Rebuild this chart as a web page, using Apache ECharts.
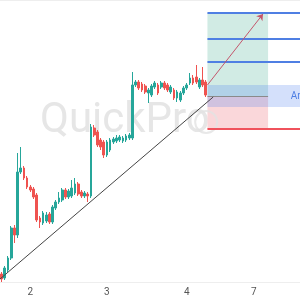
<!DOCTYPE html>
<html>
<head>
<meta charset="utf-8">
<script src="https://cdn.jsdelivr.net/npm/echarts@6/dist/echarts.min.js"></script>
<style>
  html, body { margin: 0; padding: 0; background: #fff; }
  #chart { width: 300px; height: 300px; }
</style>
</head>
<body>
<div id="chart"></div>
<script>
// hourly candles, one slot per bar; the x axis has more slots than bars
const slotCount = 94
const tickIndex = [9, 33, 58, 79]
const tickLabels = ['2', '3', '4', '7']

const opens = [26, 22, 30, 42, 72, 65, 128, 132, 122, 113, 111, 105, 82, 77, 79, 86, 78, 92, 98, 100,
  110, 103, 104, 107, 116, 108, 104, 106, 104, 172, 168, 160, 158, 145, 150, 158, 159, 160, 159, 160,
  162, 162, 215, 218, 216, 214, 207, 205, 213, 215, 213, 217, 215, 208, 210, 202, 200, 207, 212, 217,
  222, 223, 213, 220, 218]
const closes = [21, 32, 42, 72, 65, 128, 132, 122, 113, 110, 103, 80, 78, 87, 85, 78, 93, 98, 102, 110,
  103, 109, 112, 116, 106, 104, 107, 104, 173, 165, 155, 153, 145, 158, 160, 161, 162, 163, 162, 164,
  165, 215, 218, 212, 210, 208, 210, 214, 217, 207, 217, 212, 210, 213, 202, 208, 207, 212, 215, 222,
  217, 218, 220, 215, 205]
const lows = [18, 20, 28, 40, 57, 62, 126, 120, 111, 108, 101, 78, 72, 75, 77, 76, 76, 90, 96, 98,
  101, 101, 102, 105, 104, 102, 102, 98, 102, 163, 153, 150, 142, 143, 148, 156, 157, 158, 157, 158,
  160, 160, 213, 210, 208, 206, 197, 203, 211, 205, 211, 210, 208, 206, 200, 198, 198, 205, 210, 215,
  215, 216, 211, 213, 203]
const highs = [28, 34, 44, 74, 75, 147, 153, 134, 124, 115, 113, 107, 84, 89, 88, 88, 95, 100, 108, 112,
  112, 111, 120, 122, 118, 110, 109, 108, 176, 175, 170, 162, 160, 160, 162, 163, 165, 165, 164, 166,
  167, 228, 220, 220, 218, 216, 212, 216, 219, 217, 219, 219, 217, 215, 212, 210, 209, 214, 217, 227,
  225, 235, 222, 233, 220]

// trade tool levels (price) and its slot span
const tradeStart = 65
const tradeEnd = 84
const targetLevels = [287, 261, 238]
const stopLevel = 171
const entryLevel = 204
const areaTop = 215
const areaBottom = 193
// trend line and arrow end points [slot, price]
const trendFrom = [0, 21]
const trendTo = [66.8, 203]
const arrowFrom = [65, 215]
const arrowTo = [82.4, 286]
const handlePoint = [64.6, 178]

const categories = Array.from({ length: slotCount }, (_, i) => String(i))
const candles = opens.map((o, i) => [o, closes[i], lows[i], highs[i]])

const chart = echarts.init(document.getElementById('chart'))

const levelLines = targetLevels.map(v => [
  { coord: [tradeStart, v], lineStyle: { color: '#4f7fe3', width: 2, type: 'solid' } },
  { coord: [slotCount, v] }
])

chart.setOption({
  animation: false,
  graphic: [{
    type: 'text',
    z: 0,
    left: 40,
    top: 100,
    style: {
      text: 'QuickPro',
      font: '42px Roboto',
      fill: '#e6e6e6'
    }
  }],
  grid: { left: 0, right: 0, top: 0, bottom: 18 },
  xAxis: [
    {
      type: 'category',
      data: categories,
      boundaryGap: true,
      axisLine: { lineStyle: { color: '#eeeeee' } },
      axisTick: { show: false },
      axisLabel: {
        interval: (i) => tickIndex.includes(i),
        formatter: (v, i) => tickLabels[tickIndex.indexOf(i)] || '',
        color: '#555',
        fontSize: 10,
        margin: 5,
        fontFamily: 'Roboto'
      },
      splitLine: { show: false }
    },
    {
      type: 'value',
      min: 0,
      max: slotCount,
      position: 'top',
      axisLine: { show: true, onZero: false, lineStyle: { color: '#eeeeee' } },
      axisTick: { show: false },
      axisLabel: { show: false },
      splitLine: { show: false }
    }
  ],
  yAxis: {
    type: 'value',
    min: 18,
    max: 300,
    show: false,
    splitLine: { show: false }
  },
  series: [
    {
      type: 'candlestick',
      xAxisIndex: 0,
      data: candles,
      barWidth: '70%',
      z: 3,
      itemStyle: {
        color: '#26a69a',
        color0: '#ef5350',
        borderColor: '#26a69a',
        borderColor0: '#ef5350',
        borderWidth: 1
      }
    },
    {
      type: 'scatter',
      xAxisIndex: 1,
      z: 4,
      data: [handlePoint],
      symbol: 'circle',
      symbolSize: 22,
      itemStyle: { color: 'rgba(255,255,255,0)', borderColor: '#e2e2e2', borderWidth: 2 },
      markArea: {
        silent: true,
        data: [
          [{ coord: [tradeStart, targetLevels[0]], itemStyle: { color: '#d1ebe4' } },
            { coord: [tradeEnd, entryLevel] }],
          [{ coord: [tradeStart, entryLevel], itemStyle: { color: '#fad7da' } },
            { coord: [tradeEnd, stopLevel] }],
          [{
            coord: [tradeStart, areaTop],
            itemStyle: { color: 'rgba(82,130,240,0.25)' },
            label: {
              show: true,
              formatter: 'Area',
              position: ['90%', '50%'],
              align: 'left',
              verticalAlign: 'middle',
              color: '#4f7fe3',
              fontSize: 10,
              fontFamily: 'Roboto'
            }
          }, { coord: [slotCount, areaBottom] }]
        ]
      },
      markLine: {
        silent: true,
        symbol: ['none', 'none'],
        label: { show: false },
        data: [
          ...levelLines,
          [{ coord: [tradeStart, stopLevel], lineStyle: { color: '#f0525c', width: 2, type: 'solid' } },
            { coord: [slotCount, stopLevel] }],
          [{ coord: [tradeStart, entryLevel], lineStyle: { color: '#8a8a8a', width: 1, type: 'solid' } },
            { coord: [tradeEnd, entryLevel] }],
          [{ coord: trendFrom, lineStyle: { color: '#444', width: 1, type: 'solid' } },
            { coord: trendTo }],
          [{ coord: arrowFrom, lineStyle: { color: '#c4566c', width: 1, type: 'solid' } },
            { coord: arrowTo, symbol: 'arrow', symbolSize: 6 }]
        ]
      }
    }
  ]
})
</script>
</body>
</html>
